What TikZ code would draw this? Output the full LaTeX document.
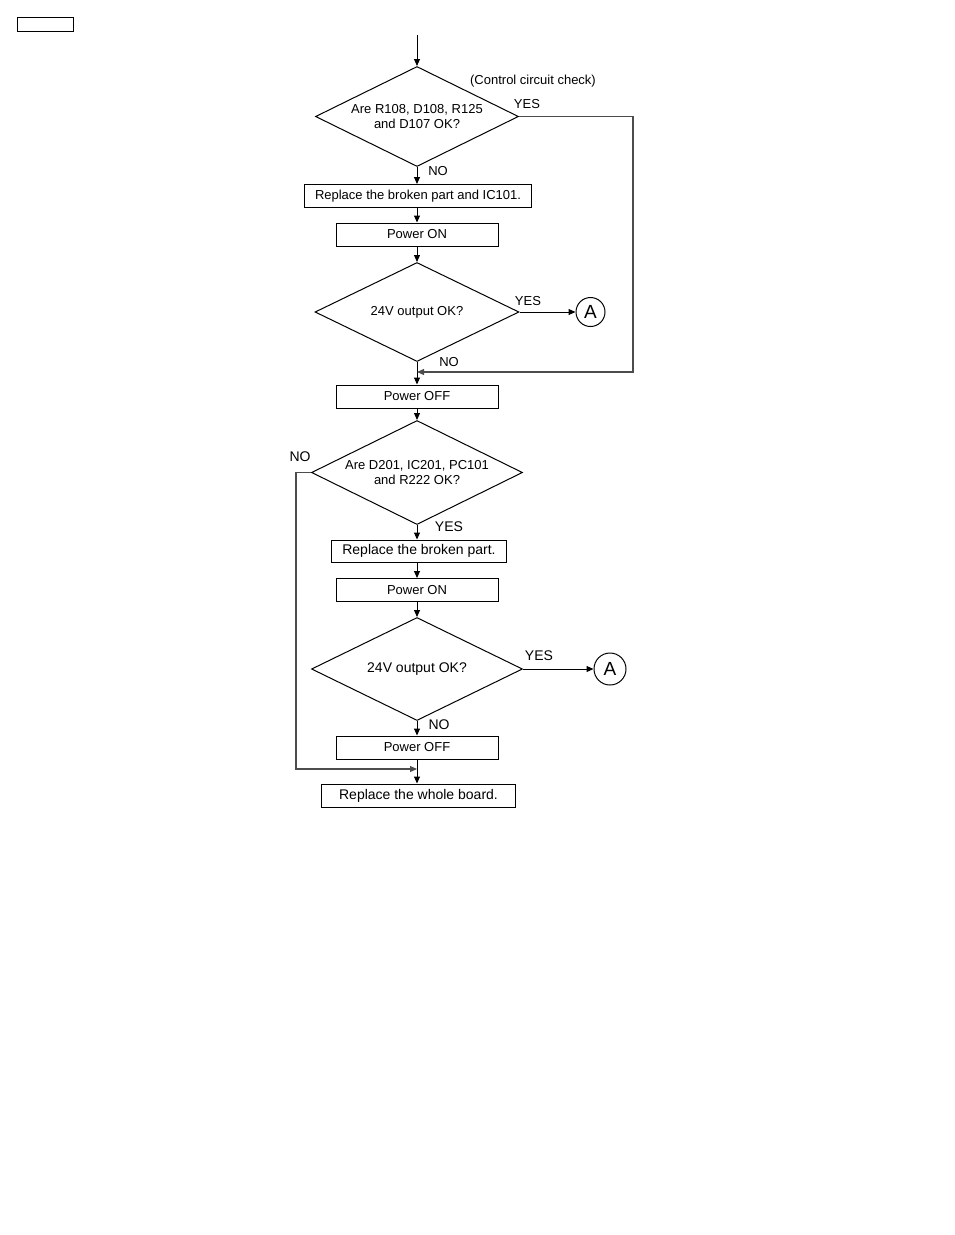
\documentclass[tikz,border=0pt]{standalone}
\usepackage{fontspec}
\setmainfont{Liberation Sans}
\usetikzlibrary{shapes.geometric,arrows.meta}

\tikzset{
  stepbox/.style={rectangle, draw, line width=1pt, inner sep=0pt, minimum height=23pt},
  decision/.style={diamond, draw, line width=1pt, inner sep=0pt, align=center},
  goto/.style={circle, draw, line width=1pt, inner sep=0pt, font=\fontsize{19}{21}\selectfont},
  flow/.style={draw, line width=1pt, -{Triangle[length=7pt,width=6pt]}},
  loop/.style={draw, line width=1.1pt, black!70, -{Triangle[length=7pt,width=6pt]}},
  tag/.style={inner sep=0pt},
  upper/.style={font=\fontsize{13}{15}\selectfont},
  lower/.style={font=\fontsize{14}{16}\selectfont}
}

\begin{document}
\begin{tikzpicture}[x=1pt, y=-1pt]
    \useasboundingbox (0,0) rectangle (954,1235);

    % page mark
    \draw[line width=1pt] (17,17) rectangle (73,31);

    % first stage: control circuit
    \coordinate (entry) at (417,35);
    \node [decision, upper, aspect=2.03, minimum width=203pt, minimum height=100pt] (check1) at (417,116.5) {Are R108, D108, R125\\and D107 OK?};
    \node [stepbox, upper, minimum width=227pt] (replace1) at (418,196) {Replace the broken part and IC101.};
    \node [stepbox, upper, minimum width=162pt] (poweron1) at (417,234.5) {Power ON};
    \node [decision, upper, aspect=2.06, minimum width=204pt, minimum height=99pt] (output1) at (417,312) {24V output OK?};
    \node [goto, minimum size=29pt] (A1) at (590.5,312) {A};
    \node [stepbox, upper, minimum width=162pt] (poweroff1) at (417,396.5) {Power OFF};

    % second stage
    \node [decision, upper, aspect=2.03, minimum width=211pt, minimum height=104pt] (check2) at (417,472.5) {Are D201, IC201, PC101\\and R222 OK?};
    \node [stepbox, lower, minimum width=175pt, minimum height=22pt] (replace2) at (419,551) {Replace the broken part.};
    \node [stepbox, upper, minimum width=162pt] (poweron2) at (417,590) {Power ON};
    \node [decision, lower, aspect=2.05, minimum width=211pt, minimum height=103pt] (output2) at (417,669) {24V output OK?};
    \node [goto, minimum size=32pt] (A2) at (610,669) {A};
    \node [stepbox, upper, minimum width=162pt] (poweroff2) at (417,747.5) {Power OFF};
    \node [stepbox, lower, minimum width=194pt] (wholeboard) at (418.5,795.5) {Replace the whole board.};

    % loop corners
    \coordinate (join1) at (417,372);
    \coordinate (rightrail) at (633,0);
    \coordinate (join2) at (417,769);
    \coordinate (leftrail) at (296,0);

    % labels
    \node [tag, upper] (note) at (533,81) {(Control circuit check)};
    \node [tag, upper] (yes1) at (527,104) {YES};
    \node [tag, upper] (no1) at (438,171) {NO};
    \node [tag, upper] (yes2) at (528,301) {YES};
    \node [tag, upper] (no2) at (449,362) {NO};
    \node [tag, lower] (no3) at (300,457) {NO};
    \node [tag, lower] (yes3) at (449,527) {YES};
    \node [tag, lower] (yes4) at (539,656) {YES};
    \node [tag, lower] (no4) at (439,725) {NO};

    % arrows
    \draw[flow] (entry) -- (check1.north);
    \draw[flow] (check1.south) -- (check1.south |- replace1.north);
    \draw[flow] (check1.south |- replace1.south) -- (poweron1.north);
    \draw[flow] (poweron1.south) -- (output1.north);
    \draw[flow] (output1.east) -- (A1.west);
    \draw[flow] (output1.south) -- (poweroff1.north);
    \draw[loop] (check1.east) -- (check1.east -| rightrail) |- (join1);
    \draw[flow] (poweroff1.south) -- (check2.north);
    \draw[flow] (check2.south) -- (check2.south |- replace2.north);
    \draw[flow] (check2.south |- replace2.south) -- (poweron2.north);
    \draw[flow] (poweron2.south) -- (output2.north);
    \draw[flow] (output2.east) -- (A2.west);
    \draw[flow] (output2.south) -- (poweroff2.north);
    \draw[flow] (poweroff2.south) -- (poweroff2.south |- wholeboard.north);
    \draw[loop] (check2.west) -- (check2.west -| leftrail) |- (join2);
\end{tikzpicture}
\end{document}
